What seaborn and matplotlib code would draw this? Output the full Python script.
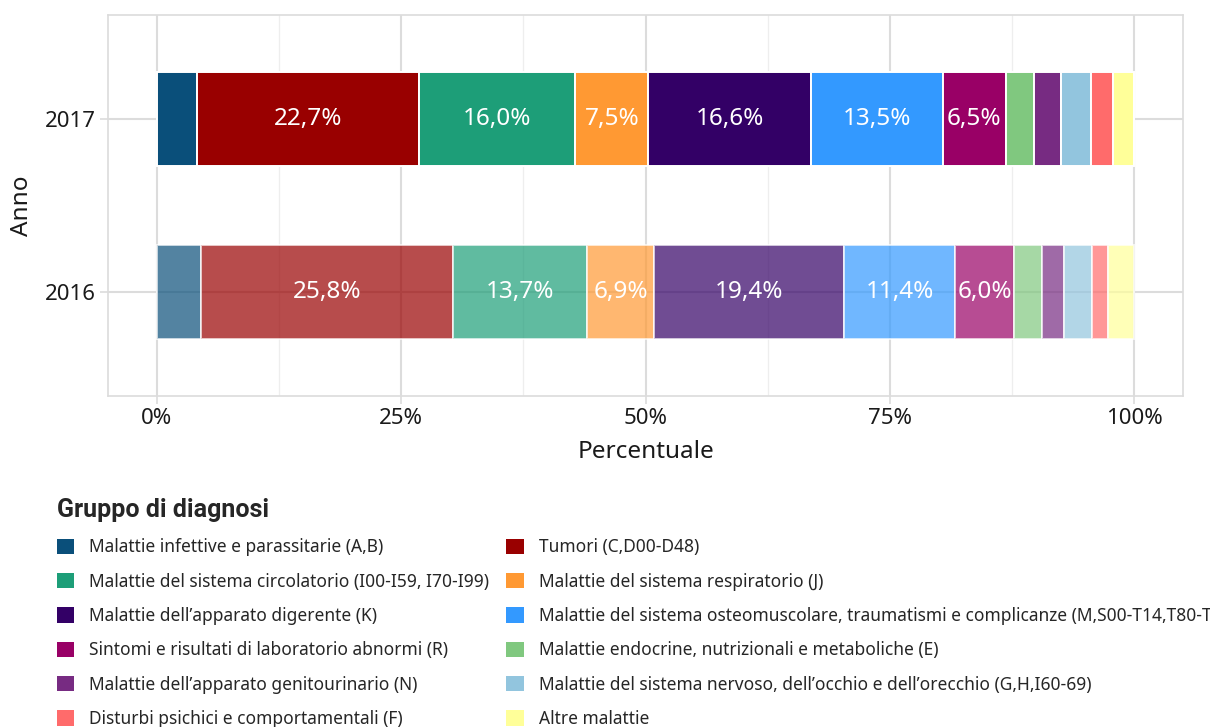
import matplotlib
matplotlib.use("Agg")
import matplotlib.pyplot as plt
from matplotlib.patches import Patch
from matplotlib.font_manager import FontProperties
from matplotlib.ticker import FixedLocator, FuncFormatter
import pandas as pd
import seaborn as sns

# Anni e gruppi di diagnosi (ordine di impilamento)
years = ["2017", "2016"]
groups = [
    "Malattie infettive e parassitarie (A,B)",
    "Tumori (C,D00-D48)",
    "Malattie del sistema circolatorio (I00-I59, I70-I99)",
    "Malattie del sistema respiratorio (J)",
    "Malattie dell\u2019apparato digerente (K)",
    "Malattie del sistema osteomuscolare, traumatismi e complicanze (M,S00-T14,T80-T88)",
    "Sintomi e risultati di laboratorio abnormi (R)",
    "Malattie endocrine, nutrizionali e metaboliche (E)",
    "Malattie dell\u2019apparato genitourinario (N)",
    "Malattie del sistema nervoso, dell\u2019occhio e dell\u2019orecchio (G,H,I60-69)",
    "Disturbi psichici e comportamentali (F)",
    "Altre malattie",
]
share_2017 = [4.1, 22.7, 16.0, 7.5, 16.6, 13.5, 6.5, 2.9, 2.7, 3.1, 2.2, 2.2]
share_2016 = [4.5, 25.8, 13.7, 6.9, 19.4, 11.4, 6.0, 2.9, 2.2, 2.9, 1.6, 2.7]

palette = [
    "#0A4F7A", "#990000", "#1D9E78", "#FF9933", "#330066", "#3399FF",
    "#990066", "#80C87F", "#772B82", "#92C5DE", "#FF6B6B", "#FFFF99",
]
year_alpha = {"2017": 1.0, "2016": 0.7}

# Tabella in formato lungo con l'inizio di ogni segmento
rows = []
for year, shares in zip(years, [share_2017, share_2016]):
    start = 0.0
    for g, v, c in zip(groups, shares, palette):
        rows.append({"anno": year, "gruppo": g, "quota": v, "inizio": start, "colore": c})
        start += v
df = pd.DataFrame(rows)

sns.set_theme(style="white")
plt.rcParams["font.family"] = ["Noto Sans", "DejaVu Sans"]

fig = plt.figure(figsize=(12.1, 7.27), dpi=100)
W, H = 1210, 727
ax = fig.add_axes([108 / W, 1 - 396 / H, (1183 - 108) / W, (396 - 15) / H])

for _, r in df.iterrows():
    sns.barplot(
        x=[r["quota"]], y=[r["anno"]], order=years, orient="h",
        color=r["colore"], saturation=1, alpha=year_alpha[r["anno"]],
        left=r["inizio"], width=0.54, edgecolor="white", linewidth=1.4,
        errorbar=None, ax=ax,
    )
    if r["quota"] >= 5:
        ax.text(
            r["inizio"] + r["quota"] / 2, years.index(r["anno"]),
            f"{r['quota']:.1f}%".replace(".", ","),
            ha="center", va="center", color="white", fontsize=17.5,
        )

ax.set_xlim(-5, 105)
ax.set_ylim(1.6, -0.6)
ax.xaxis.set_major_locator(FixedLocator([0, 25, 50, 75, 100]))
ax.xaxis.set_minor_locator(FixedLocator([12.5, 37.5, 62.5, 87.5]))
ax.xaxis.set_major_formatter(FuncFormatter(lambda v, _: f"{v:.0f}%"))

ax.set_axisbelow(True)
ax.grid(which="major", axis="both", color="#DCDCDC", linewidth=1.5)
ax.grid(which="minor", axis="x", color="#EEEEEE", linewidth=0.9)
for side in ["left", "right", "top", "bottom"]:
    ax.spines[side].set_visible(True)
    ax.spines[side].set_color("#DCDCDC")
    ax.spines[side].set_linewidth(1.2)
ax.tick_params(which="major", length=5.5, width=1.2, color="#DCDCDC",
               labelsize=16, labelcolor="#1a1a1a", pad=3,
               left=True, bottom=True)
ax.tick_params(which="minor", length=0)

ax.set_xlabel("Percentuale", fontsize=17.5, color="#1a1a1a", labelpad=8)
ax.set_ylabel("Anno", fontsize=17.5, color="#1a1a1a", labelpad=8)

# Legenda su due colonne, riempita per righe
handles = [Patch(facecolor=c, edgecolor="none") for c in palette]
order = list(range(0, len(groups), 2)) + list(range(1, len(groups), 2))
title_font = FontProperties(family=["Roboto", "Open Sans", "DejaVu Sans"],
                            weight="bold", size=18)
fig.legend(
    [handles[i] for i in order], [groups[i] for i in order],
    ncol=2, loc="upper left", bbox_to_anchor=(57 / W, 1 - 498 / H),
    frameon=False, title="Gruppo di diagnosi",
    title_fontproperties=title_font,
    alignment="left", fontsize=12.5, handlelength=1.0, handleheight=1.0,
    handletextpad=0.85, labelspacing=0.94, columnspacing=1.0,
    borderpad=0, borderaxespad=0,
)

fig.savefig("out.png", dpi=100)
